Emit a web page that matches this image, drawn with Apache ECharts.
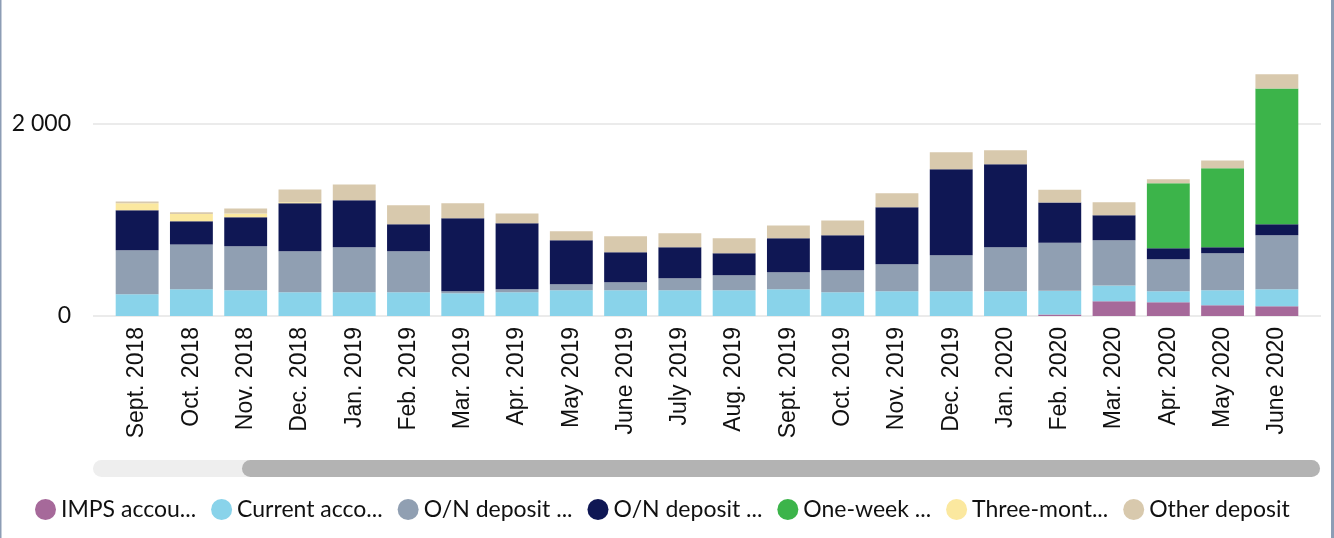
<!DOCTYPE html>
<html>
<head>
    <meta charset="utf-8">
    <script src="https://cdn.jsdelivr.net/npm/echarts@6/dist/echarts.min.js"></script>
    <style>
        html, body { margin: 0; padding: 0; background: #fff; }
    </style>
</head>
<body>
<div id="chart" style="width: 1334px; height: 538px;"></div>
<script type="text/javascript">
    // Data
    var months = ['Sept. 2018', 'Oct. 2018', 'Nov. 2018', 'Dec. 2018', 'Jan. 2019', 'Feb. 2019',
        'Mar. 2019', 'Apr. 2019', 'May 2019', 'June 2019', 'July 2019', 'Aug. 2019', 'Sept. 2019',
        'Oct. 2019', 'Nov. 2019', 'Dec. 2019', 'Jan. 2020', 'Feb. 2020', 'Mar. 2020', 'Apr. 2020',
        'May 2020', 'June 2020'];

    var imps        = [0, 0, 0, 0, 0, 0, 0, 0, 0, 0, 0, 0, 0, 0, 0, 0, 0, 15, 153, 142, 111, 101];
    var current     = [226, 278, 267, 247, 247, 247, 236, 247, 267, 267, 267, 267, 278, 247, 257, 257, 257, 249, 166, 115, 156, 177];
    var onDeposit1  = [458, 468, 459, 427, 468, 427, 21, 31, 63, 84, 125, 157, 177, 229, 281, 375, 458, 500, 469, 333, 386, 562];
    var onDeposit2  = [417, 240, 302, 500, 490, 281, 760, 687, 458, 312, 323, 229, 354, 364, 594, 896, 865, 417, 261, 115, 62, 115];
    var oneWeek     = [0, 0, 0, 0, 0, 0, 0, 0, 0, 0, 0, 0, 0, 0, 0, 0, 0, 0, 0, 677, 823, 1416];
    var threeMonth  = [73, 76, 41, 10, 0, 0, 0, 0, 0, 0, 0, 0, 0, 0, 0, 0, 0, 0, 0, 0, 0, 0];
    var other       = [20, 18, 52, 135, 166, 198, 157, 104, 94, 167, 146, 156, 135, 156, 146, 177, 146, 135, 135, 42, 83, 146];

    var seriesNames = ['IMPS accounts', 'Current accounts', 'O/N deposit (fixed)', 'O/N deposit (auction)',
        'One-week deposit', 'Three-month deposit', 'Other deposit'];
    var legendLabels = ['IMPS accou...', 'Current acco...', 'O/N deposit ...', 'O/N deposit ...',
        'One-week ...', 'Three-mont...', 'Other deposit'];
    var yTicks = [0, 2000];

    var colors = ['#a6699a', '#89d3ea', '#909fb2', '#0f1754', '#3cb44a', '#fbe89f', '#d8c9ad'];
    var values = [imps, current, onDeposit1, onDeposit2, oneWeek, threeMonth, other];

    var chart = echarts.init(document.getElementById('chart'));

    var series = seriesNames.map(function (name, i) {
        return {
            name: name,
            type: 'bar',
            stack: 'total',
            xAxisIndex: 1,
            yAxisIndex: 1,
            barWidth: '79%',
            itemStyle: { color: colors[i] },
            emphasis: { disabled: true },
            data: values[i]
        };
    });

    var option = {
        animation: false,
        grid: [
            { left: 93, right: 13, top: 28, bottom: 222 },
            { left: 110, right: 30, top: 28, bottom: 222 }
        ],
        xAxis: [
            { gridIndex: 0, type: 'category', data: months, show: false },
            {
                gridIndex: 1, type: 'category', data: months,
                axisLine: { show: false },
                axisTick: { show: false },
                axisLabel: {
                    rotate: 90, margin: 11, interval: 0,
                    fontFamily: 'Liberation Sans', fontSize: 23, color: '#111'
                }
            }
        ],
        yAxis: [
            {
                gridIndex: 0, type: 'value', min: 0, max: 3000, interval: 2000,
                axisLine: { show: false },
                axisTick: { show: false },
                axisLabel: {
                    margin: 22, showMaxLabel: false,
                    fontFamily: 'Lato', fontSize: 23, color: '#111',
                    formatter: function (v) {
                        return yTicks.indexOf(v) < 0 ? '' : String(v).replace(/\B(?=(\d{3})+(?!\d))/g, ' ');
                    }
                },
                splitLine: { showMaxLine: false, lineStyle: { color: '#ebebeb', width: 2 } }
            },
            { gridIndex: 1, type: 'value', min: 0, max: 3000, show: false }
        ],
        legend: {
            left: 30, top: 493,
            icon: 'circle', itemWidth: 21, itemHeight: 21, itemGap: 15,
            textStyle: { fontFamily: 'Lato', fontSize: 23, color: '#111' },
            formatter: function (name) {
                return legendLabels[seriesNames.indexOf(name)];
            },
            data: seriesNames
        },
        graphic: [
            // scrollbar track and thumb
            { type: 'rect', shape: { x: 93, y: 460, width: 1227, height: 17, r: 8.5 }, style: { fill: '#eeeeee' }, silent: true },
            { type: 'rect', shape: { x: 242, y: 460, width: 1078, height: 17, r: 8.5 }, style: { fill: '#b3b3b3' }, silent: true },
            // frame borders
            { type: 'rect', shape: { x: 0, y: 0, width: 1.5, height: 538 }, style: { fill: '#8d9db5' }, silent: true },
            { type: 'rect', shape: { x: 1331, y: 0, width: 3, height: 538 }, style: { fill: '#8d9db5' }, silent: true }
        ],
        series: series
    };
    chart.setOption(option);
</script>
</body>
</html>
